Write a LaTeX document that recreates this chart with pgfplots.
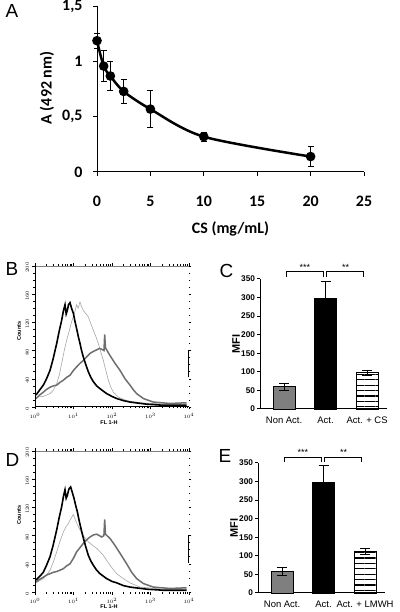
\documentclass[border=0pt]{standalone}
\usepackage{fontspec}
\setmainfont{Liberation Sans}
\newfontfamily\carlito{Carlito}
\usepackage{pgfplots}
\pgfplotsset{compat=1.18}
\usetikzlibrary{patterns.meta}
\definecolor{lightcurve}{HTML}{A6A6A6}
\definecolor{midcurve}{HTML}{6E6E6E}
\definecolor{bargray}{HTML}{7F7F7F}
\newcommand{\afont}{\carlito\bfseries\fontsize{16}{16}\selectfont}
\newcommand{\pfont}{\fontsize{19}{19}\selectfont}
\pgfplotsset{
  histo/.style={scale only axis, width=154bp, height=141bp,
    xmin=0, xmax=4, ymin=0, ymax=200,
    axis line style={draw=none},
    xtick={0,1,2,3,4},
    xticklabels={$10^0$,$10^1$,$10^2$,$10^3$,$10^4$},
    minor xtick={0.301,0.477,0.602,0.699,0.778,0.845,0.903,0.954,1.301,1.477,1.602,1.699,1.778,1.845,1.903,1.954,2.301,2.477,2.602,2.699,2.778,2.845,2.903,2.954,3.301,3.477,3.602,3.699,3.778,3.845,3.903,3.954},
    ytick={0,40,80,120,160,200},
    minor ytick={10,20,30,50,60,70,90,100,110,130,140,150,170,180,190},
    tick align=outside, major tick length=2.5bp, minor tick length=1.5bp,
    every tick/.style={black, line width=0.5bp},
    xticklabel style={font=\fontsize{4.5}{5}\selectfont, anchor=north, yshift=-0.5bp},
    yticklabel style={font=\fontsize{4.5}{5}\selectfont, rotate=90, anchor=south, xshift=-1.5bp},
  },
  barax/.style={scale only axis, width=127bp, height=130bp,
    xmin=0.42, xmax=3.48, ymin=0, ymax=350,
    axis x line*=bottom, axis y line*=left,
    axis line style={-, line width=1bp},
    xtick={1,2,3}, xtick style={draw=none},
    ytick={0,50,100,150,200,250,300,350},
    yticklabels={0,50,100,150,200,250,300,350},
    tick align=outside, major tick length=3bp,
    ytick style={black, line width=1bp},
    yticklabel style={font=\bfseries\fontsize{8.3}{9}\selectfont, anchor=east, xshift=1.5bp},
    xticklabel style={font=\fontsize{9.5}{10}\selectfont, anchor=north, yshift=-1bp},
    clip=false,
  },
  ebar/.style={error bars/.cd, y dir=both, y explicit,
    error bar style={black, line width=0.8bp},
    error mark options={rotate=90, mark size=5bp, line width=0.8bp, black}},
  stripes/.style={pattern={Lines[angle=0,distance=5.4bp,line width=1.2bp]}, pattern color=black},
}
\begin{document}
\begin{tikzpicture}
\useasboundingbox (0,0) rectangle (400bp,612bp);
% ---------- Panel A ----------
\begin{axis}[at={(97bp,440bp)}, anchor=south west,
  scale only axis, width=267bp, height=165.5bp,
  xmin=0, xmax=25, ymin=0, ymax=1.5,
  axis lines=left, axis line style={-, line width=1bp},
  xtick={0,5,10,15,20,25}, xticklabels={0,5,10,15,20,25},
  ytick={0,0.5,1,1.5}, yticklabels={0,{0,5},1,{1,5}},
  tick align=outside, major tick length=4bp,
  every tick/.style={black, line width=1bp},
  ticklabel style={font=\afont},
  xticklabel style={anchor=center, yshift=-25bp},
  yticklabel style={anchor=east, xshift=-7bp},
  clip=false]
\addplot[black, line width=2.5bp, smooth, mark=*, mark size=3.5bp,
  error bars/.cd, y dir=both, y explicit,
  error bar style={black, line width=0.9bp},
  error mark options={rotate=90, mark size=3bp, line width=0.9bp, black}]
  coordinates {
  (0,1.19) +- (0,0.07)
  (0.625,0.96) +- (0,0.14)
  (1.25,0.87) +- (0,0.13)
  (2.5,0.73) +- (0,0.11)
  (5,0.57) +- (0,0.17)
  (10,0.32) +- (0,0.04)
  (20,0.14) +- (0,0.09)
  };
\end{axis}
\node[font=\afont] at (230.5bp,383.5bp) {CS (mg/mL)};
\node[font=\afont, rotate=90] at (47bp,524bp) {A (492 nm)};
\node[font=\pfont, anchor=base west] at (2bp,594bp) {A};
% ---------- Panel B ----------
\begin{axis}[histo, at={(35bp,205bp)}, anchor=south west]
\addplot[lightcurve, line width=0.6bp] coordinates {
 (0.026,14) (0.216,15) (0.39,19) (0.48,24) (0.563,33) (0.63,45) (0.693,62) (0.76,80) (0.823,95) (0.89,108) (0.952,121) (1.02,132) (1.082,145) (1.12,140) (1.169,149) (1.21,142) (1.255,137) (1.31,133) (1.385,128) (1.45,118) (1.515,109) (1.58,100) (1.645,90) (1.71,78) (1.775,66) (1.84,52) (1.905,38) (1.97,28) (2.035,21) (2.165,14) (2.381,9) (2.727,6) (3.333,4) (3.94,4)};
\addplot[midcurve, line width=1.5bp] coordinates {
 (0.026,12) (0.12,17) (0.216,21) (0.3,25) (0.39,28) (0.48,30) (0.563,31) (0.65,35) (0.736,38) (0.82,42) (0.909,45) (1.0,52) (1.082,57) (1.17,62) (1.255,66) (1.34,71) (1.429,76) (1.52,79) (1.602,81) (1.67,83) (1.732,82) (1.792,80) (1.81,103) (1.83,84) (1.948,73) (2.078,62) (2.208,52) (2.338,40) (2.468,31) (2.56,24) (2.641,19) (2.814,12) (3.074,7) (3.506,5) (3.94,6)};
\addplot[black, line width=1.6bp] coordinates {
 (0.026,17) (0.12,24) (0.216,31) (0.3,40) (0.39,52) (0.47,68) (0.563,90) (0.63,108) (0.693,123) (0.74,137) (0.779,145) (0.81,132) (0.84,137) (0.87,145) (0.909,148) (0.95,140) (0.996,133) (1.04,121) (1.082,111) (1.125,100) (1.169,90) (1.21,80) (1.255,71) (1.32,60) (1.385,50) (1.45,42) (1.515,36) (1.6,30) (1.688,26) (1.861,19) (2.0,15) (2.121,12) (2.3,9) (2.468,7) (2.9,4) (3.333,2.5) (3.94,2.5)};
\draw[gray, line width=0.5bp] (rel axis cs:0,0) rectangle (rel axis cs:1,1);
\draw[black, line width=1bp] (rel axis cs:0,1) -- (rel axis cs:0,0) -- (rel axis cs:1,0);
\draw[black, line width=1.5bp] (axis cs:4,42) -- (axis cs:4,81);
\end{axis}
\node[font=\bfseries\fontsize{5.5}{6}\selectfont, rotate=90] at (19bp,281bp) {Counts};
\node[font=\bfseries\fontsize{5.5}{6}\selectfont] at (109bp,189bp) {FL 1-H};
\node[font=\pfont, anchor=base west] at (2bp,336bp) {B};
% ---------- Panel D ----------
\begin{axis}[histo, at={(35bp,20bp)}, anchor=south west]
\addplot[lightcurve, line width=0.6bp] coordinates {
 (0.026,13) (0.216,19) (0.3,24) (0.39,31) (0.48,43) (0.563,57) (0.65,72) (0.736,85) (0.8,92) (0.866,97) (0.93,104) (0.996,110) (1.08,98) (1.169,88) (1.28,78) (1.385,71) (1.5,66) (1.602,62) (1.69,57) (1.775,52) (1.86,45) (1.948,38) (2.03,32) (2.121,26) (2.294,19) (2.468,13) (2.727,7) (3.333,4) (3.94,4)};
\addplot[midcurve, line width=1.5bp] coordinates {
 (0.026,14) (0.12,18) (0.216,21) (0.3,24) (0.39,26) (0.48,28) (0.563,29) (0.65,31) (0.736,33) (0.82,37) (0.909,40) (1.0,48) (1.082,57) (1.17,63) (1.255,69) (1.34,74) (1.429,78) (1.52,81) (1.602,82) (1.67,80) (1.732,78) (1.79,80) (1.81,103) (1.83,82) (1.948,76) (2.078,66) (2.208,55) (2.381,40) (2.51,28) (2.641,19) (2.814,12) (3.074,7) (3.506,5) (3.94,6)};
\addplot[black, line width=1.6bp] coordinates {
 (0.026,17) (0.12,22) (0.216,28) (0.3,38) (0.39,50) (0.47,66) (0.563,88) (0.63,106) (0.693,121) (0.74,136) (0.779,145) (0.81,133) (0.84,137) (0.88,146) (0.926,149) (0.97,141) (1.013,133) (1.06,122) (1.099,114) (1.14,103) (1.186,92) (1.23,82) (1.273,73) (1.33,62) (1.385,52) (1.45,44) (1.515,38) (1.6,31) (1.688,26) (1.861,19) (2.0,15) (2.121,13) (2.3,9) (2.468,7) (2.9,4) (3.333,2.5) (3.94,2.5)};
\draw[gray, line width=0.5bp] (rel axis cs:0,0) rectangle (rel axis cs:1,1);
\draw[black, line width=1bp] (rel axis cs:0,1) -- (rel axis cs:0,0) -- (rel axis cs:1,0);
\draw[black, line width=1.5bp] (axis cs:4,41) -- (axis cs:4,81);
\end{axis}
\node[font=\bfseries\fontsize{5.5}{6}\selectfont, rotate=90] at (19bp,97bp) {Counts};
\node[font=\bfseries\fontsize{5.5}{6}\selectfont] at (109bp,5bp) {FL 1-H};
\node[font=\pfont, anchor=base west] at (2bp,145bp) {D};
% ---------- Panel C ----------
\begin{axis}[barax, at={(260bp,203bp)}, anchor=south west,
  xticklabels={Non Act., Act., Act. + CS}]
\addplot[ybar, bar width=22bp, fill=bargray, draw=black, line width=0.8bp, ebar] coordinates {(1,60) +- (0,10)};
\addplot[ybar, bar width=22bp, fill=black, draw=black, line width=0.8bp, ebar] coordinates {(2,298) +- (0,45)};
\addplot[ybar, bar width=22bp, stripes, draw=black, line width=0.8bp, ebar] coordinates {(3,98) +- (0,7)};
\draw[line width=0.8bp] (axis cs:1.05,356) |- (axis cs:1.94,370) -- (axis cs:1.94,356);
\draw[line width=0.8bp] (axis cs:2.03,356) |- (axis cs:2.92,370) -- (axis cs:2.92,356);
\node[font=\fontsize{9}{9}\selectfont, anchor=base] at (axis cs:1.5,373) {***};
\node[font=\fontsize{9}{9}\selectfont, anchor=base] at (axis cs:2.48,373) {**};
\end{axis}
\node[font=\bfseries\fontsize{11}{11}\selectfont, rotate=90] at (236bp,268bp) {MFI};
\node[font=\pfont, anchor=base west] at (216bp,334bp) {C};
% ---------- Panel E ----------
\begin{axis}[barax, at={(258bp,19bp)}, anchor=south west,
  xticklabels={Non Act., Act., Act. + LMWH}]
\addplot[ybar, bar width=22bp, fill=bargray, draw=black, line width=0.8bp, ebar] coordinates {(1,58) +- (0,10)};
\addplot[ybar, bar width=22bp, fill=black, draw=black, line width=0.8bp, ebar] coordinates {(2,298) +- (0,45)};
\addplot[ybar, bar width=22bp, stripes, draw=black, line width=0.8bp, ebar] coordinates {(3,112) +- (0,8)};
\draw[line width=0.8bp] (axis cs:1.05,353) |- (axis cs:1.94,366) -- (axis cs:1.94,353);
\draw[line width=0.8bp] (axis cs:2.03,353) |- (axis cs:2.92,366) -- (axis cs:2.92,353);
\node[font=\fontsize{9}{9}\selectfont, anchor=base] at (axis cs:1.5,369) {***};
\node[font=\fontsize{9}{9}\selectfont, anchor=base] at (axis cs:2.48,369) {**};
\end{axis}
\node[font=\bfseries\fontsize{11}{11}\selectfont, rotate=90] at (234bp,84bp) {MFI};
\node[font=\pfont, anchor=base west] at (215bp,149bp) {E};
\end{tikzpicture}
\end{document}
